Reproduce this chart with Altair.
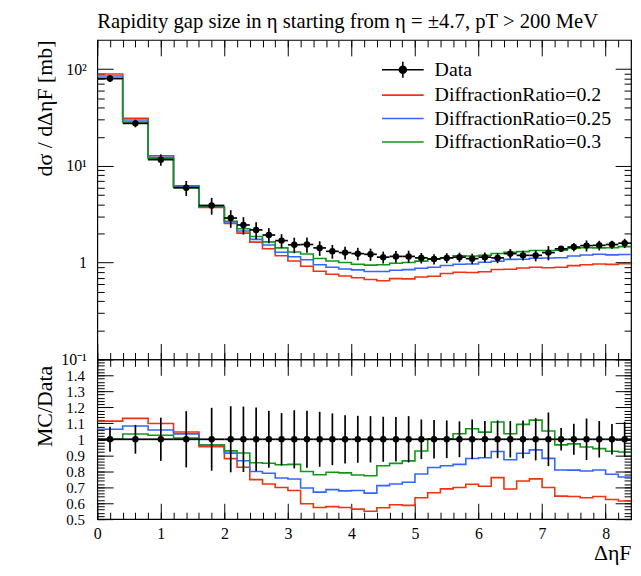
import altair as alt
import pandas as pd

# ---------------- values ----------------
edges = [0.0, 0.4, 0.8, 1.2, 1.6, 2.0, 2.2, 2.4, 2.6, 2.8, 3.0, 3.2, 3.4, 3.6, 3.8,
         4.0, 4.2, 4.4, 4.6, 4.8, 5.0, 5.2, 5.4, 5.6, 5.8, 6.0, 6.2, 6.4, 6.6, 6.8,
         7.0, 7.2, 7.4, 7.6, 7.8, 8.0, 8.2, 8.4]

data_vals = [80.0, 27.5, 11.6, 5.94, 3.9, 2.89, 2.45, 2.18, 1.93, 1.69,
             1.53, 1.54, 1.42, 1.31, 1.27, 1.24, 1.22, 1.14, 1.16, 1.16,
             1.12, 1.09, 1.12, 1.14, 1.10, 1.14, 1.12, 1.24, 1.19, 1.19,
             1.27, 1.39, 1.45, 1.50, 1.51, 1.54, 1.59]

data_rel_err = [0.078, 0.09, 0.135, 0.176, 0.197, 0.207, 0.205, 0.199, 0.178, 0.164,
                0.182, 0.178, 0.172, 0.162, 0.151, 0.147, 0.145, 0.141, 0.139, 0.145,
                0.124, 0.120, 0.118, 0.112, 0.124, 0.114, 0.118, 0.114, 0.118, 0.132,
                0.168, 0.070, 0.097, 0.130, 0.114, 0.095, 0.110]

mc_red = [89.1, 31.1, 12.75, 6.21, 3.72, 2.54, 2.02, 1.63, 1.39, 1.18,
          1.04, 0.918, 0.814, 0.758, 0.728, 0.698, 0.670, 0.651, 0.684, 0.680,
          0.710, 0.725, 0.772, 0.796, 0.790, 0.805, 0.851, 0.854, 0.879, 0.895,
          0.886, 0.895, 0.931, 0.951, 0.969, 0.959, 0.975]

mc_blue = [85.0, 29.8, 12.27, 6.14, 3.76, 2.64, 2.12, 1.74, 1.52, 1.28,
           1.15, 1.07, 0.950, 0.897, 0.860, 0.843, 0.809, 0.809, 0.835, 0.848,
           0.877, 0.898, 0.934, 0.961, 0.968, 1.008, 1.034, 1.081, 1.086, 1.111,
           1.118, 1.122, 1.170, 1.202, 1.219, 1.203, 1.215]

mc_green = [80.0, 28.4, 11.89, 5.99, 3.76, 2.68, 2.24, 1.86, 1.64, 1.42,
            1.29, 1.23, 1.105, 1.039, 1.003, 0.963, 0.942, 0.951, 0.985, 1.003,
            1.038, 1.094, 1.124, 1.180, 1.173, 1.191, 1.241, 1.283, 1.301, 1.333,
            1.336, 1.341, 1.408, 1.428, 1.422, 1.425, 1.464]

series_names = ["Data", "DiffractionRatio=0.2", "DiffractionRatio=0.25", "DiffractionRatio=0.3"]
x_tick_labels = [0, 1, 2, 3, 4, 5, 6, 7, 8]
log_tick_labels = [0.1, 1, 10, 100]
ratio_tick_labels = [0.5, 0.6, 0.7, 0.8, 0.9, 1.0, 1.1, 1.2, 1.3, 1.4]

title_text = "Rapidity gap size in η starting from η = ±4.7, pT > 200 MeV"

# ---------------- style ----------------
FONT = "Liberation Serif"
COLORS = ["#000000", "#EE3311", "#3366FF", "#109618"]
W, HT, HR = 538, 322, 161
MAJ, MIN = 16, 7

x_minor = [round(0.2 * i, 1) for i in range(43)]
y_log_minor = [m * 10.0 ** k for k in (-1, 0, 1) for m in range(2, 10)]
ratio_minor = [round(0.5 + 0.02 * i, 2) for i in range(51)]

xs = alt.Scale(domain=[0, 8.4], nice=False, zero=False)
yt = alt.Scale(type="log", domain=[0.1, 200], nice=False)
yr = alt.Scale(domain=[0.5, 1.5], nice=False, zero=False)


def tick_axis(orient, offset, values, size):
    return alt.Axis(orient=orient, offset=offset, values=values, tickSize=size,
                    tickColor="black", tickWidth=1, ticks=True, labels=False,
                    domain=False, grid=False, title=None)


def step_frame(vals):
    return pd.DataFrame({"x": edges, "y": list(vals) + [vals[-1]]})


lo = edges[:-1]
hi = edges[1:]
dd = pd.DataFrame({
    "lo": lo, "hi": hi,
    "mid": [(a + b) / 2 for a, b in zip(lo, hi)],
    "y": data_vals,
    "ylo": [v * (1 - e) for v, e in zip(data_vals, data_rel_err)],
    "yhi": [v * (1 + e) for v, e in zip(data_vals, data_rel_err)],
    "r": [1.0] * len(data_vals),
    "rlo": [1 - e for e in data_rel_err],
    "rhi": [1 + e for e in data_rel_err],
})

mc_lists = [mc_red, mc_blue, mc_green]

# ---------------- top panel ----------------
ytop_label_axis = alt.Axis(
    orient="left", values=log_tick_labels, ticks=False, domain=False, grid=False,
    labelExpr="datum.value >= 99 ? '10²' : datum.value >= 9 ? '10¹' : datum.value >= 0.9 ? '1' : '10⁻¹'",
    labelFont=FONT, labelFontSize=16, labelPadding=11, labelOverlap=False, labelFlush=False,
    labelColor="black", title="dσ / dΔηF [mb]", titleFont=FONT, titleFontSize=22,
    titleFontWeight="normal", titleColor="black", titleAngle=270, titleAlign="right",
    titleBaseline="middle", titleX=-53, titleY=0)

top_x_axes = [tick_axis("bottom", -HT, x_tick_labels, MAJ),
              tick_axis("bottom", -HT, x_minor, MIN),
              tick_axis("top", -HT, x_tick_labels, MAJ)]
top_y_axes = [ytop_label_axis,
              tick_axis("right", -W, log_tick_labels, MAJ),
              tick_axis("right", -W, y_log_minor, MIN)]

top_layers = []
for i in range(3):
    top_layers.append(
        alt.Chart(step_frame(mc_lists[i])).mark_line(
            interpolate="step-after", color=COLORS[i + 1], strokeWidth=1.6, clip=True
        ).encode(
            x=alt.X("x:Q", scale=xs, axis=top_x_axes[i]),
            y=alt.Y("y:Q", scale=yt, axis=top_y_axes[i]),
        )
    )

top_xerr = alt.Chart(dd).mark_rule(color="black", strokeWidth=1.7).encode(
    x=alt.X("lo:Q", scale=xs, axis=tick_axis("top", -HT, x_minor, MIN)),
    x2="hi:Q",
    y=alt.Y("y:Q", scale=yt, axis=tick_axis("left", -W, log_tick_labels, MAJ)),
)
top_yerr = alt.Chart(dd).mark_rule(color="black", strokeWidth=1.7).encode(
    x=alt.X("mid:Q", scale=xs, axis=None),
    y=alt.Y("ylo:Q", scale=yt, axis=tick_axis("left", -W, y_log_minor, MIN)),
    y2="yhi:Q",
)
top_pts = alt.Chart(dd).mark_point(filled=True, size=42, color="black", opacity=1).encode(
    x=alt.X("mid:Q", scale=xs, axis=None),
    y=alt.Y("y:Q", scale=yt, axis=None),
)

DATA_PATH = "M-1,0L7.4,0M3.2,-1.6L3.2,1.6M2.5,0A0.7,0.7 0 1,1 3.9,0A0.7,0.7 0 1,1 2.5,0Z"
LINE_PATH = "M-1,0L7.4,0"
paths = [DATA_PATH, LINE_PATH, LINE_PATH, LINE_PATH]

leg_cfg = dict(title=None, orient="none", legendX=282, legendY=20, direction="vertical",
               labelFont=FONT, labelFontSize=20, labelColor="black", labelOffset=38,
               rowPadding=3.6, padding=0, symbolStrokeWidth=1.6, symbolSize=100, labelLimit=400)
leg_df = pd.DataFrame({"series": series_names})
legend_layer = alt.Chart(leg_df).mark_point(opacity=1, strokeWidth=1.6, size=100).encode(
    fill=alt.Fill("series:N", scale=alt.Scale(domain=series_names, range=COLORS), legend=alt.Legend(**leg_cfg)),
    stroke=alt.Stroke("series:N", scale=alt.Scale(domain=series_names, range=COLORS), legend=alt.Legend(**leg_cfg)),
    shape=alt.Shape("series:N", scale=alt.Scale(domain=series_names, range=paths), legend=alt.Legend(**leg_cfg)),
).transform_filter("false")

top = alt.layer(*top_layers, top_xerr, top_yerr, top_pts, legend_layer).resolve_axis(
    x="independent", y="independent"
).properties(
    width=W, height=HT,
    title=alt.TitleParams(text=title_text, anchor="start", frame="group", font=FONT,
                          fontSize=20.8, fontWeight="normal", color="black", offset=7),
)

# ---------------- ratio panel ----------------
xr_label_axis = alt.Axis(
    orient="bottom", values=x_tick_labels, ticks=False, domain=False, grid=False,
    labelFont=FONT, labelFontSize=16, labelPadding=7, labelFlush=False, labelColor="black",
    format="d", title="ΔηF", titleFont=FONT, titleFontSize=22, titleFontWeight="normal",
    titleColor="black", titleAnchor="end", titleAlign="right", titlePadding=1)
yr_label_axis = alt.Axis(
    orient="left", values=ratio_tick_labels, ticks=False, domain=False, grid=False,
    labelExpr="datum.value == 1 ? '1' : format(datum.value, '.1f')",
    labelFont=FONT, labelFontSize=15, labelPadding=13, labelOverlap=False, labelFlush=False,
    labelColor="black", title="MC/Data", titleFont=FONT, titleFontSize=22,
    titleFontWeight="normal", titleColor="black", titleAngle=270, titleAlign="right",
    titleBaseline="middle", titleX=-53, titleY=6)

r_x_axes = [xr_label_axis,
            tick_axis("top", -HR, x_tick_labels, MAJ),
            tick_axis("top", -HR, x_minor, MIN)]
r_y_axes = [yr_label_axis,
            tick_axis("right", -W, ratio_tick_labels, MAJ),
            tick_axis("right", -W, ratio_minor, MIN)]

r_layers = []
for i in range(3):
    ratio_vals = [m / d for m, d in zip(mc_lists[i], data_vals)]
    r_layers.append(
        alt.Chart(step_frame(ratio_vals)).mark_line(
            interpolate="step-after", color=COLORS[i + 1], strokeWidth=1.6, clip=True
        ).encode(
            x=alt.X("x:Q", scale=xs, axis=r_x_axes[i]),
            y=alt.Y("y:Q", scale=yr, axis=r_y_axes[i]),
        )
    )

r_xerr = alt.Chart(dd).mark_rule(color="black", strokeWidth=1.8).encode(
    x=alt.X("lo:Q", scale=xs, axis=tick_axis("bottom", -HR, x_tick_labels, MAJ)),
    x2="hi:Q",
    y=alt.Y("r:Q", scale=yr, axis=tick_axis("left", -W, ratio_tick_labels, MAJ)),
)
r_yerr = alt.Chart(dd).mark_rule(color="black", strokeWidth=1.7).encode(
    x=alt.X("mid:Q", scale=xs, axis=tick_axis("bottom", -HR, x_minor, MIN)),
    y=alt.Y("rlo:Q", scale=yr, axis=tick_axis("left", -W, ratio_minor, MIN)),
    y2="rhi:Q",
)
r_pts = alt.Chart(dd).mark_point(filled=True, size=42, color="black", opacity=1).encode(
    x=alt.X("mid:Q", scale=xs, axis=None),
    y=alt.Y("r:Q", scale=yr, axis=None),
)

bottom = alt.layer(*r_layers, r_xerr, r_yerr, r_pts).resolve_axis(
    x="independent", y="independent"
).properties(width=W, height=HR)

chart = alt.vconcat(top, bottom, spacing=0, bounds="flush").resolve_scale(
    x="independent", y="independent", fill="independent", stroke="independent", shape="independent"
).properties(
    padding={"left": 25, "top": 0, "right": 0, "bottom": 0}
).configure_view(
    stroke="black", strokeWidth=1.2
).configure_axis(
    labelFont=FONT, titleFont=FONT
).configure_title(font=FONT)

chart.save("out.html", embed_options={"renderer": "svg", "actions": False})
